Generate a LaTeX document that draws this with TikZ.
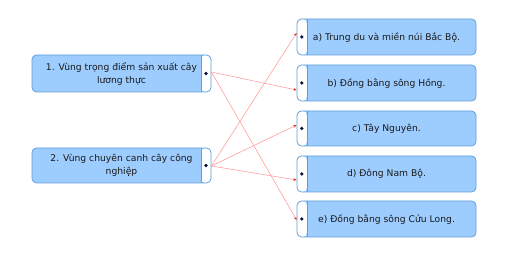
\documentclass[tikz,border=0pt]{standalone}
\usepackage{fontspec}
\setmainfont{DejaVu Sans}
\usetikzlibrary{arrows.meta}
\definecolor{boxblue}{RGB}{157,204,255}
\definecolor{boxline}{RGB}{98,160,218}
\definecolor{dotc}{RGB}{10,22,60}
\definecolor{linkc}{RGB}{255,160,160}
\definecolor{tipc}{RGB}{235,30,30}
\tikzset{
  x=1pt, y=-1pt,
  optbox/.style={draw=boxline, line width=0.8pt, fill=boxblue, rounded corners=4.5pt,
    minimum width=179pt, inner sep=2pt, align=center, text=black!90,
    font=\fontsize{9.2}{13}\selectfont},
  leftstrip/.style={optbox, path picture={
      \fill[white] (path picture bounding box.north west) rectangle ([xshift=10pt]path picture bounding box.south west);
      \draw[boxline, line width=0.8pt] ([xshift=10pt]path picture bounding box.north west) -- ([xshift=10pt]path picture bounding box.south west);
      \fill[dotc] ([xshift=4.8pt]path picture bounding box.west) circle (1.8pt);}},
  rightstrip/.style={optbox, path picture={
      \fill[white] (path picture bounding box.north east) rectangle ([xshift=-10pt]path picture bounding box.south east);
      \draw[boxline, line width=0.8pt] ([xshift=-10pt]path picture bounding box.north east) -- ([xshift=-10pt]path picture bounding box.south east);
      \fill[dotc] ([xshift=-5pt]path picture bounding box.east) circle (1.8pt);}},
  link/.style={draw=linkc, line width=0.6pt, -{Stealth[length=3.2pt,width=2.6pt,tipc]}}
}
\begin{document}
\begin{tikzpicture}
\useasboundingbox (0,0) rectangle (520,264);
\node[rightstrip, minimum height=37pt] (n1) at (121.5,73.5) {1. Vùng trọng điểm sản xuất cây\\lương thực};
\node[rightstrip, minimum height=35pt] (n2) at (121.5,165.5) {2. Vùng chuyên canh cây công\\nghiệp};
\node[leftstrip, minimum height=36pt] (a) at (386.5,37) {a) Trung du và miền núi Bắc Bộ.};
\node[leftstrip, minimum height=36pt] (b) at (386.5,83) {b) Đồng bằng sông Hồng.};
\node[leftstrip, minimum height=35pt] (c) at (386.5,128.5) {c) Tây Nguyên.};
\node[leftstrip, minimum height=36pt] (d) at (386.5,174) {d) Đông Nam Bộ.};
\node[leftstrip, minimum height=36pt] (e) at (386.5,219) {e) Đồng bằng sông Cửu Long.};
\draw[link] ([yshift=1.5pt]n1.east) -- ([yshift=-7pt]b.west);
\draw[link] ([yshift=1.5pt]n1.east) -- ([yshift=-1pt]e.west);
\draw[link] ([yshift=-0.5pt]n2.east) -- ([yshift=4pt]a.west);
\draw[link] ([yshift=-0.5pt]n2.east) -- ([yshift=3.5pt]c.west);
\draw[link] ([yshift=-0.5pt]n2.east) -- ([yshift=-6pt]d.west);
\end{tikzpicture}
\end{document}
